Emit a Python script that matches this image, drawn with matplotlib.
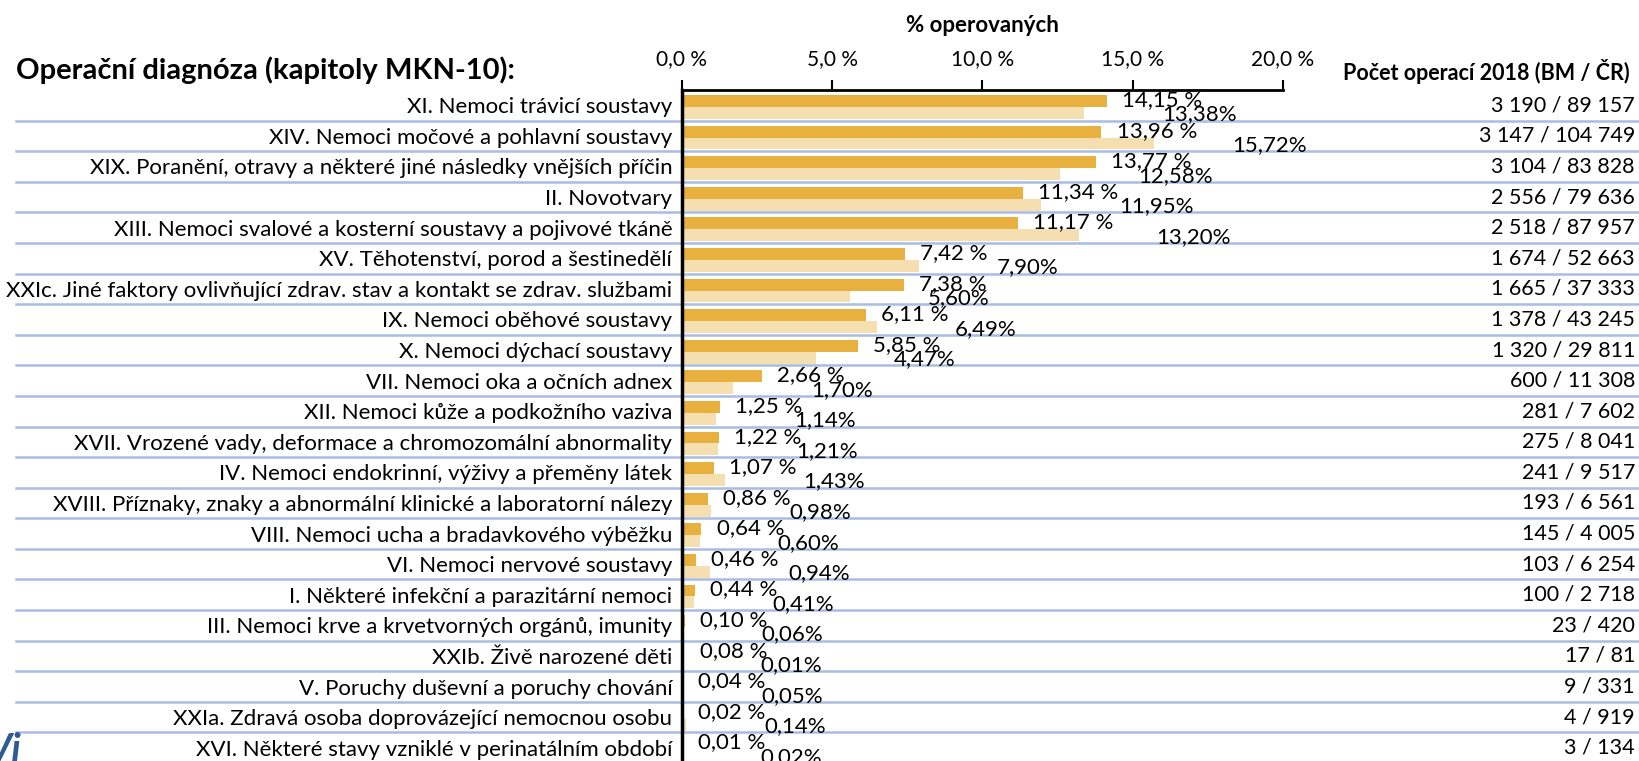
import matplotlib.pyplot as plt
from matplotlib.transforms import blended_transform_factory

kapitoly = [
    'XI. Nemoci trávicí soustavy',
    'XIV. Nemoci močové a pohlavní soustavy',
    'XIX. Poranění, otravy a některé jiné následky vnějších příčin',
    'II. Novotvary',
    'XIII. Nemoci svalové a kosterní soustavy a pojivové tkáně',
    'XV. Těhotenství, porod a šestinedělí',
    'XXIc. Jiné faktory ovlivňující zdrav. stav a kontakt se zdrav. službami',
    'IX. Nemoci oběhové soustavy',
    'X. Nemoci dýchací soustavy',
    'VII. Nemoci oka a očních adnex',
    'XII. Nemoci kůže a podkožního vaziva',
    'XVII. Vrozené vady, deformace a chromozomální abnormality',
    'IV. Nemoci endokrinní, výživy a přeměny látek',
    'XVIII. Příznaky, znaky a abnormální klinické a laboratorní nálezy',
    'VIII. Nemoci ucha a bradavkového výběžku',
    'VI. Nemoci nervové soustavy',
    'I. Některé infekční a parazitární nemoci',
    'III. Nemoci krve a krvetvorných orgánů, imunity',
    'XXIb. Živě narozené děti',
    'V. Poruchy duševní a poruchy chování',
    'XXIa. Zdravá osoba doprovázející nemocnou osobu',
    'XVI. Některé stavy vzniklé v perinatálním období',
]
bm_procenta = [14.15, 13.96, 13.77, 11.34, 11.17, 7.42, 7.38, 6.11, 5.85, 2.66, 1.25,
               1.22, 1.07, 0.86, 0.64, 0.46, 0.44, 0.10, 0.08, 0.04, 0.02, 0.01]
cr_procenta = [13.38, 15.72, 12.58, 11.95, 13.20, 7.90, 5.60, 6.49, 4.47, 1.70, 1.14,
               1.21, 1.43, 0.98, 0.60, 0.94, 0.41, 0.06, 0.01, 0.05, 0.14, 0.02]
bm_pocet = [3190, 3147, 3104, 2556, 2518, 1674, 1665, 1378, 1320, 600, 281,
            275, 241, 193, 145, 103, 100, 23, 17, 9, 4, 3]
cr_pocet = [89157, 104749, 83828, 79636, 87957, 52663, 37333, 43245, 29811, 11308, 7602,
            8041, 9517, 6561, 4005, 6254, 2718, 420, 81, 331, 919, 134]
x_ticks = [0, 5, 10, 15, 20]

TMAVA = '#E8B03E'
SVETLA = '#F5DFB0'
MODRA = '#A9BCE3'


def cz_cislo(n):
    return f'{n:,}'.replace(',', ' ')


def cz_proc(v, mezera=True):
    s = f'{v:.2f}'.replace('.', ',')
    return s + (' %' if mezera else '%')


plt.rcParams['font.family'] = ['Lato', 'DejaVu Sans']
plt.rcParams['font.size'] = 16

W, H = 1640, 761
fig = plt.figure(figsize=(W / 100, H / 100), dpi=100)
ax = fig.add_axes([682 / W, -2 / H, (1283 - 682) / W, 673 / H])

y = list(range(len(kapitoly)))
ax.barh([i - 0.14 for i in y], bm_procenta, height=0.39, color=TMAVA, zorder=2)
ax.barh([i + 0.25 for i in y], cr_procenta, height=0.39, color=SVETLA, zorder=2)

for i in y:
    ax.annotate(cz_proc(bm_procenta[i]), (bm_procenta[i], i - 0.17),
                xytext=(11, 0), textcoords='offset points',
                ha='left', va='center', fontsize=16, annotation_clip=False)
    ax.annotate(cz_proc(cr_procenta[i], False), (cr_procenta[i], i + 0.3),
                xytext=(56, 0), textcoords='offset points',
                ha='left', va='center', fontsize=16, annotation_clip=False)

ax.set_xlim(0, 20)
ax.set_ylim(len(kapitoly) - 0.5, -0.5)

ax.xaxis.tick_top()
ax.xaxis.set_label_position('top')
ax.set_xticks(x_ticks)
ax.set_xticklabels([f'{t:.1f} %'.replace('.', ',') for t in x_ticks])
ax.tick_params(axis='x', direction='out', length=7, width=1.5, pad=8, labelsize=15)
ax.set_xlabel('% operovaných', fontweight='bold', fontsize=16, labelpad=12)

ax.set_yticks(y)
ax.set_yticklabels(kapitoly)
ax.tick_params(axis='y', length=0, pad=7, labelsize=16)

ax.spines['right'].set_visible(False)
ax.spines['bottom'].set_visible(False)
ax.spines['top'].set_linewidth(2)
ax.spines['left'].set_linewidth(2.5)

trans = blended_transform_factory(fig.transFigure, ax.transData)
for k in range(len(kapitoly) - 1):
    ax.plot([16 / W, 1], [k + 0.5, k + 0.5], transform=trans, color=MODRA,
            lw=1.8, clip_on=False, zorder=1)

for i in y:
    ax.text(1635 / W, i, f'{cz_cislo(bm_pocet[i])} / {cz_cislo(cr_pocet[i])}',
            transform=trans, ha='right', va='center', fontsize=15.5)

fig.text(1630 / W, 1 - 72 / H, 'Počet operací 2018 (BM / ČR)', ha='right', va='center',
         fontweight='bold', fontsize=15.5)
fig.text(16 / W, 1 - 70 / H, 'Operační diagnóza (kapitoly MKN-10):', ha='left', va='center',
         fontweight='bold', fontsize=21)

# kousek loga vlevo dole
fig.text(-14 / W, -6 / H, 'Vi', color='#2E5C91', fontsize=28, fontweight='bold',
         style='italic', ha='left', va='bottom')

fig.savefig('out.png', dpi=100)
